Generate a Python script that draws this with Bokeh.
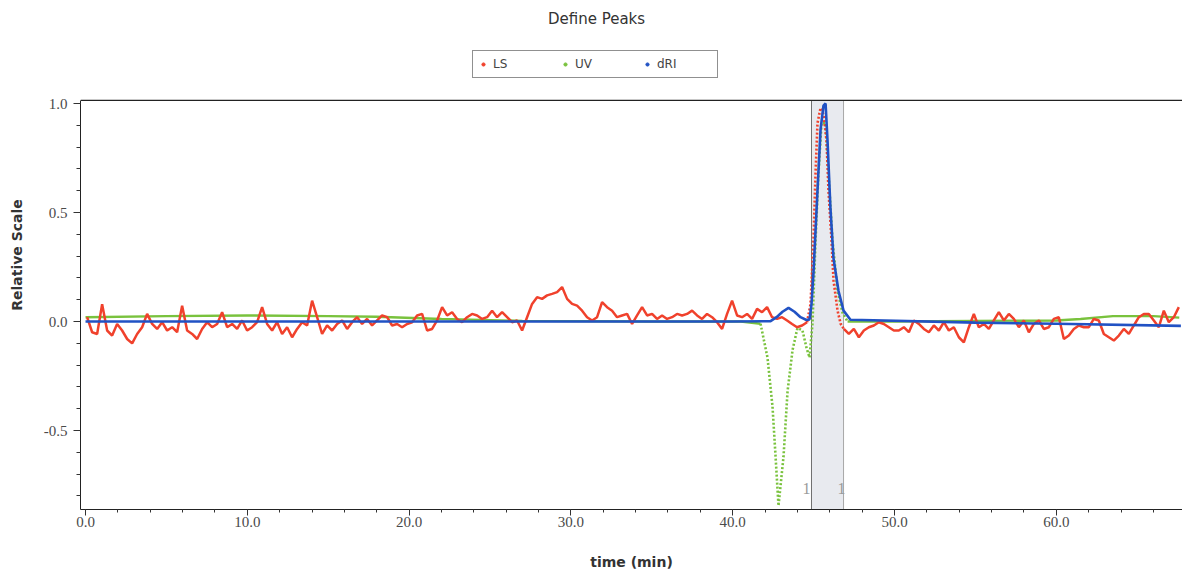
import numpy as np
from bokeh.plotting import figure
from bokeh.models import (Range1d, SingleIntervalTicker, BoxAnnotation, Span, Label,
                          Legend, LegendItem, NumeralTickFormatter)
from bokeh.embed import file_html
from bokeh.resources import INLINE

# ---------------- data ----------------
# LS (light scattering) baseline left of the peak, sampled every LS_STEP minutes from LS_LEFT_T0
LS_STEP = 0.309
LS_LEFT_T0 = 0.10
LS_LEFT = [0.020, -0.049, -0.057, 0.080, -0.041, -0.064, -0.011, -0.041, -0.080, -0.100,
           -0.057, -0.026, 0.035, -0.011, -0.034, -0.003, -0.041, -0.026, -0.049, 0.073,
           -0.041, -0.057, -0.080, -0.034, -0.003, -0.026, -0.011, 0.043, -0.026, -0.011,
           -0.034, 0.005, -0.041, -0.026, -0.003, 0.066, -0.011, -0.041, -0.003, -0.057,
           -0.026, -0.072, -0.034, -0.003, -0.018, 0.096, 0.020, -0.057, -0.018, -0.041,
           -0.011, 0.005, -0.034, -0.003, 0.020, -0.011, 0.012, -0.018, 0.005,
           0.028, 0.020, -0.018, -0.011, -0.026, -0.011, -0.003, 0.028, 0.035, -0.041,
           -0.034, 0.005, 0.066, 0.028, 0.043, 0.012, -0.003, 0.020, 0.035, 0.028,
           0.012, 0.020, 0.050, 0.020, 0.043, 0.020, -0.003, 0.005, -0.041, 0.020,
           0.081, 0.112, 0.104, 0.120, 0.127, 0.135, 0.158, 0.104, 0.081, 0.073,
           0.050, 0.020, 0.005, 0.020, 0.089, 0.066, 0.050, 0.020, 0.028, 0.035,
           -0.011, 0.028, 0.066, 0.028, 0.035, 0.012, 0.028, 0.012, 0.020, 0.035,
           0.028, 0.035, 0.050, 0.028, 0.012, 0.035, 0.020, -0.003, -0.034, 0.035,
           0.096, 0.028, 0.020, 0.035, 0.012, 0.058, 0.043, 0.066, 0.020, 0.012,
           0.020, 0.005, -0.011, -0.026, -0.018, -0.003]
LS_PEAK_T = [44.81, 44.99, 45.12, 45.24, 45.43, 45.61, 45.80, 45.92, 46.11, 46.23, 46.48, 46.67]
LS_PEAK_V = [0.08, 0.37, 0.68, 0.91, 0.98, 0.95, 0.83, 0.60, 0.37, 0.19, 0.05, -0.01]
LS_RIGHT_T0 = 46.87
LS_RIGHT = [-0.034, -0.057, -0.034, -0.072, -0.041, -0.026, -0.018, -0.003,
            -0.011, -0.026, -0.041, -0.041, -0.026, -0.049, 0.005, -0.011, -0.034, -0.049,
            -0.018, -0.041, -0.003, -0.041, -0.026, -0.072, -0.095, -0.026, 0.035, -0.026,
            -0.011, -0.034, 0.005, 0.043, 0.005, 0.035, 0.012, -0.026, 0.005, -0.049,
            -0.011, 0.005, -0.034, -0.026, 0.012, 0.020, -0.080, -0.064, -0.034, -0.018,
            -0.026, -0.026, 0.012, 0.005, -0.057, -0.072, -0.087, -0.064, -0.034, -0.057,
            -0.018, 0.020, 0.035, 0.035, 0.005, -0.026, 0.050, -0.003, 0.020, 0.066]

UV_T = [0.0, 5.0, 10.0, 15.0, 18.0, 22.0, 27.0, 35.0, 40.5, 41.72, 42.15, 42.46, 42.65, 42.83,
        43.14, 43.39, 43.70, 44.00, 44.31, 44.56, 44.75, 44.93, 45.12, 45.30, 45.49, 45.74,
        45.92, 46.17, 46.48, 46.79, 47.10, 50.0, 55.0, 60.0, 61.5, 63.5, 66.0, 67.6]
UV_V = [0.02, 0.025, 0.028, 0.025, 0.022, 0.012, 0.003, 0.0, 0.0, -0.01, -0.165, -0.39, -0.62, -0.845,
        -0.62, -0.32, -0.13, -0.03, -0.04, -0.12, -0.165, -0.01, 0.37, 0.68, 0.91, 0.91,
        0.68, 0.37, 0.14, 0.04, 0.0, 0.0, 0.003, 0.005, 0.012, 0.025, 0.025, 0.018]
# UV points (indices) between which the trace is drawn with a dotted look (steep part)
UV_DOTTED_FROM, UV_DOTTED_TO = 10, 30

DRI_T = [0.0, 20.0, 40.0, 42.34, 42.71, 43.08, 43.45, 43.82, 44.19, 44.56, 44.75, 44.87, 44.99,
         45.24, 45.43, 45.61, 45.74, 45.86, 46.04, 46.23, 46.54, 46.85, 47.28, 55.0, 60.0, 67.7]
DRI_V = [0.0, 0.0, 0.0, 0.002, 0.02, 0.045, 0.063, 0.045, 0.02, 0.007, 0.01, 0.08, 0.22,
         0.60, 0.88, 0.99, 1.0, 0.83, 0.52, 0.29, 0.14, 0.05, 0.008, -0.005, -0.01, -0.02]

PEAK_START = 44.87
PEAK_END = 46.85
PEAK_LABEL_X = [44.56, 46.72]
X_TICKS_INTERVAL = 10
Y_TICKS_INTERVAL = 0.5

# visible plot box (value range of the axes)
X_MIN, X_MAX = -0.31, 67.8
Y_BOTTOM, Y_TOP = -0.862, 1.014
Y_CANVAS_TOP = 1.4725   # the frame is extended upward so the header lives inside it

SERIES_NAMES = ["LS", "UV", "dRI"]
COLORS = {"LS": "#f0412c", "UV": "#79c23d", "dRI": "#2152c4"}

ls_left_t = LS_LEFT_T0 + LS_STEP * np.arange(len(LS_LEFT))
ls_right_t = LS_RIGHT_T0 + LS_STEP * np.arange(len(LS_RIGHT))
ls_peak_t = np.concatenate([ls_left_t[-1:], LS_PEAK_T, ls_right_t[:1]])
ls_peak_v = np.concatenate([LS_LEFT[-1:], LS_PEAK_V, LS_RIGHT[:1]])

# ---------------- figure ----------------
p = figure(width=1182, height=573, output_backend="svg", toolbar_location=None,
           x_range=Range1d(X_MIN, X_MAX), y_range=Range1d(Y_BOTTOM, Y_CANVAS_TOP),
           min_border_left=80, min_border_right=0, min_border_top=0, min_border_bottom=64)
p.title.visible = False
p.background_fill_color = "white"
p.border_fill_color = "white"
p.outline_line_color = None
p.xgrid.visible = False
p.ygrid.visible = False

# top border of the plot box
p.add_layout(Span(location=Y_TOP, dimension="width", line_color="#222222", line_width=1.2))

# peak band and its limits
p.add_layout(BoxAnnotation(left=PEAK_START, right=PEAK_END, bottom=Y_BOTTOM, top=Y_TOP,
                           fill_color="#dcdee6", fill_alpha=0.65, line_color=None,
                           level="underlay"))
p.segment(x0=[PEAK_START], y0=[Y_BOTTOM], x1=[PEAK_START], y1=[Y_TOP],
          line_color="#707070", line_width=1)
p.segment(x0=[PEAK_END], y0=[Y_BOTTOM], x1=[PEAK_END], y1=[Y_TOP],
          line_color="#a8a8a8", line_width=1)

# traces: UV (green) — solid baseline, dotted in its steep part
p.line(UV_T[:UV_DOTTED_FROM], UV_V[:UV_DOTTED_FROM], line_color=COLORS["UV"], line_width=2.4)
p.line(UV_T[UV_DOTTED_FROM - 1:UV_DOTTED_TO + 1], UV_V[UV_DOTTED_FROM - 1:UV_DOTTED_TO + 1],
       line_color=COLORS["UV"], line_width=2.6, line_dash="2 2")
p.line(UV_T[UV_DOTTED_TO:], UV_V[UV_DOTTED_TO:], line_color=COLORS["UV"], line_width=2.4)

# LS (red)
p.line(ls_left_t, LS_LEFT, line_color=COLORS["LS"], line_width=2.5)
p.line(ls_peak_t, ls_peak_v, line_color=COLORS["LS"], line_width=2.6, line_dash="2 2")
p.line(ls_right_t, LS_RIGHT, line_color=COLORS["LS"], line_width=2.5)

# dRI (blue)
p.line(DRI_T, DRI_V, line_color=COLORS["dRI"], line_width=2.6)

# axes
for ax in (p.xaxis[0], p.yaxis[0]):
    ax.axis_line_color = "#222222"
    ax.major_tick_line_color = "#333333"
    ax.minor_tick_line_color = "#333333"
    ax.major_label_text_font = "Liberation Serif"
    ax.major_label_text_font_size = "15px"
    ax.major_label_text_color = "#4a4a4a"
    ax.axis_label_text_font = "DejaVu Sans"
    ax.axis_label_text_font_style = "bold"
    ax.axis_label_text_color = "#333333"
    ax.formatter = NumeralTickFormatter(format="0.0")
    ax.major_tick_in = 0
    ax.minor_tick_in = 0

p.xaxis.ticker = SingleIntervalTicker(interval=X_TICKS_INTERVAL, num_minor_ticks=5)
p.yaxis.ticker = SingleIntervalTicker(interval=Y_TICKS_INTERVAL, num_minor_ticks=5)
p.yaxis.bounds = (Y_BOTTOM, Y_TOP)
p.xaxis.major_tick_out = 6
p.xaxis.minor_tick_out = 3
p.xaxis.major_label_standoff = 1
p.xaxis.axis_label = "time (min)"
p.xaxis.axis_label_text_font_size = "14px"
p.xaxis.axis_label_standoff = 24
p.yaxis.major_tick_out = 7
p.yaxis.minor_tick_out = 4
p.yaxis.major_label_standoff = 6
p.yaxis.axis_label = "Relative Scale"
p.yaxis.axis_label_text_font_size = "14px"
p.yaxis.axis_label_standoff = 16

# peak labels "1"
for xpos in PEAK_LABEL_X:
    p.add_layout(Label(x=xpos, y=21, y_units="screen", text="1", text_align="center",
                       text_baseline="middle", text_font="Liberation Serif",
                       text_font_size="16px", text_color="#9a9a9a"))

# title
p.add_layout(Label(x=516, y=491, x_units="screen", y_units="screen", text="Define Peaks",
                   text_align="center", text_baseline="middle", text_font="DejaVu Sans",
                   text_font_size="15px", text_color="#333333"))

# legend with dot glyphs (proxy renderers that draw nothing on the plot)
dots = {name: p.scatter(x=[np.nan], y=[np.nan], size=4, color=COLORS[name])
        for name in SERIES_NAMES}
legend = Legend(items=[LegendItem(label=n, renderers=[dots[n]]) for n in SERIES_NAMES],
                orientation="horizontal", location=(392, 431),
                glyph_width=8, glyph_height=14, label_height=14, label_width=54,
                label_standoff=6, spacing=14, padding=6, margin=0,
                label_text_font="DejaVu Sans", label_text_font_size="12px",
                label_text_color="#444444", border_line_color="#222222",
                border_line_width=1.2, background_fill_color="white", background_fill_alpha=1)
p.add_layout(legend)

open("out.html", "w").write(file_html(p, INLINE))
